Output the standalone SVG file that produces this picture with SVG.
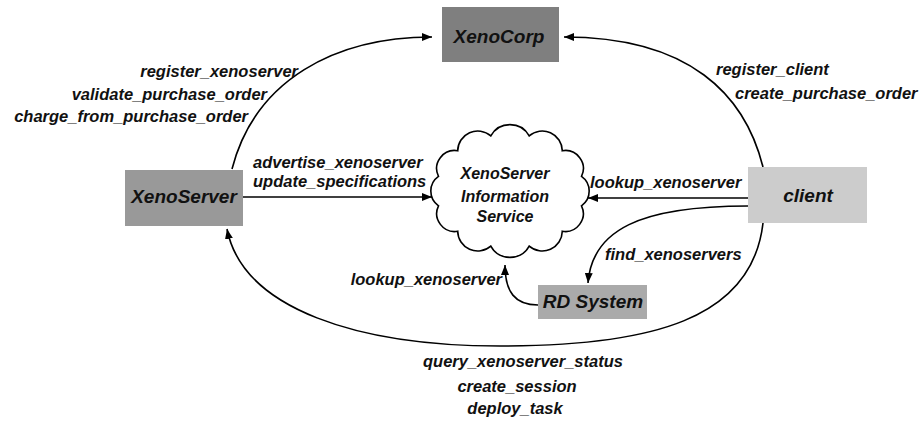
<svg xmlns="http://www.w3.org/2000/svg" width="920" height="421" viewBox="0 0 920 421">
<defs>
<marker id="arr" markerUnits="userSpaceOnUse" markerWidth="10" markerHeight="8" refX="10" refY="4" orient="auto">
<path d="M0,0 L10,4 L0,8 z" fill="#000"/>
</marker>
<style>
.lbl{font-family:"Liberation Sans",Arial,sans-serif;font-weight:bold;font-style:italic;font-size:16.5px;fill:#111}
.nl{font-family:"Liberation Sans",Arial,sans-serif;font-weight:bold;font-style:italic;font-size:19px;fill:#111;text-anchor:middle}
.cl{font-family:"Liberation Sans",Arial,sans-serif;font-weight:bold;font-style:italic;font-size:16px;fill:#111;text-anchor:middle}
.e{fill:none;stroke:#000;stroke-width:1.6;marker-end:url(#arr)}
</style>
</defs>
<rect width="920" height="421" fill="#fff"/>
<g id="connectors">
<path class="e" d="M232,169 C255,80 335,37 432,37"/>
<path class="e" d="M763,167 C745,95 690,37 564,37"/>
<path class="e" d="M243,197 L432,197"/>
<path class="e" d="M748,198 L588,198"/>
<path class="e" d="M748,206 C640,206 592,230 588,283"/>
<path class="e" d="M538,305 C515,305 505,292 505,265"/>
<path class="e" d="M763,223 C752,320 650,346 500,346 C360,346 243,310 227,229"/>
</g>
<g id="labels">
<text class="lbl" x="298" y="77" text-anchor="end">register_xenoserver</text>
<text class="lbl" x="267" y="100" text-anchor="end">validate_purchase_order</text>
<text class="lbl" x="248" y="122" text-anchor="end">charge_from_purchase_order</text>
<text class="lbl" x="253" y="168">advertise_xenoserver</text>
<text class="lbl" x="253" y="187">update_specifications</text>
<text class="lbl" x="590" y="188">lookup_xenoserver</text>
<text class="lbl" x="716" y="75">register_client</text>
<text class="lbl" x="735" y="99">create_purchase_order</text>
<text class="lbl" x="605" y="260">find_xenoservers</text>
<text class="lbl" x="502" y="285" text-anchor="end">lookup_xenoserver</text>
<text class="lbl" x="523" y="367" text-anchor="middle">query_xenoserver_status</text>
<text class="lbl" x="517" y="392" text-anchor="middle">create_session</text>
<text class="lbl" x="515" y="414" text-anchor="middle">deploy_task</text>
</g>
<g id="xenocorp">
<rect x="442" y="7" width="117" height="55" fill="#7f7f7f"/>
<text class="nl" x="499" y="43">XenoCorp</text>
</g>
<g id="xenoserver">
<rect x="125" y="170" width="118" height="56" fill="#999"/>
<text class="nl" x="184" y="203">XenoServer</text>
</g>
<g id="client">
<rect x="748" y="167" width="119" height="56" fill="#ccc"/>
<text class="nl" x="808" y="202">client</text>
</g>
<g id="rdsystem">
<rect x="538" y="285" width="109" height="34" fill="#aaa"/>
<text class="nl" x="593" y="308">RD System</text>
</g>
<g id="infoservice">
<path d="M490.8,135.9 A22,22 0 0 1 529.2,135.9 A20,20 0 0 1 562.3,150.7 A18,18 0 0 1 581.5,176.3 A18,18 0 0 1 581.5,205.8 A18,18 0 0 1 562.3,231.3 A20,20 0 0 1 529.2,246.1 A22,22 0 0 1 490.8,246.1 A20,20 0 0 1 457.7,231.3 A18,18 0 0 1 438.5,205.8 A18,18 0 0 1 438.5,176.3 A18,18 0 0 1 457.7,150.7 A20,20 0 0 1 490.8,135.9 Z" fill="#fff" stroke="#000" stroke-width="1.6"/>
<text class="cl" x="505" y="179">XenoServer</text>
<text class="cl" x="505" y="202">Information</text>
<text class="cl" x="505" y="222">Service</text>
</g>
</svg>
